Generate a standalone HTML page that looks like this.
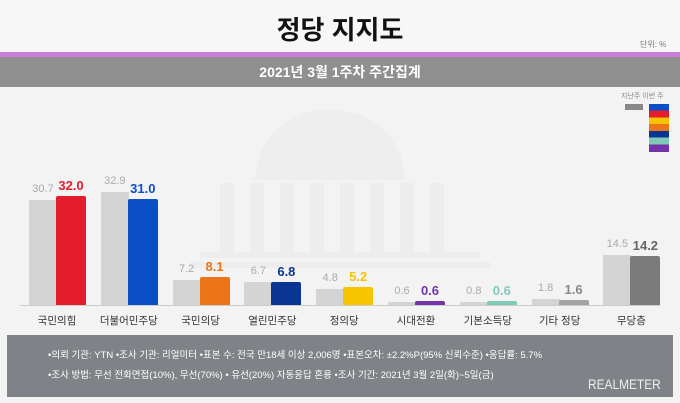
<!DOCTYPE html><html><head><meta charset="utf-8"><style>
body{margin:0;width:680px;height:403px;background:#f3f3f3;font-family:"Liberation Sans","Noto Sans CJK KR",sans-serif;position:relative;overflow:hidden}
.a{position:absolute}
.t{font-size:11px;text-align:center;color:#aaa}
.c{font-size:13px;font-weight:bold;text-align:center}
.l{font-size:10.5px;color:#333;text-align:center;width:80px}
</style></head><body>
<div class="a" style="left:0;top:0;width:680px;height:52px;background:#f7f7f7"></div>
<div class="a" style="left:0;top:10px;width:680px;text-align:center;font-size:26px;font-weight:bold;color:#111">정당 지지도</div>
<div class="a" style="left:640px;top:39px;font-size:8px;color:#777">단위: %</div>
<div class="a" style="left:0;top:52px;width:680px;height:5px;background:#c97fd8"></div>
<div class="a" style="left:0;top:57px;width:680px;height:30px;background:#8f8f8f"></div>
<div class="a" style="left:0;top:62px;width:680px;text-align:center;font-size:14px;font-weight:bold;color:#fff">2021년 3월 1주차 주간집계</div>
<div class="a" style="left:621px;top:91px;font-size:7px;color:#888">지난주 이번 주</div>
<div class="a" style="left:625px;top:104px;width:18px;height:6px;background:#888"></div>
<div class="a" style="left:649px;top:104px;width:20px;height:48px;background:linear-gradient(#0a4fc6 0 14%,#e51c2c 14% 28%,#f8c300 28% 42%,#ee7418 42% 56%,#0b3592 56% 70%,#7fcab7 70% 84%,#7234a6 84%)"></div>
<!-- watermark -->
<div class="a" style="left:255px;top:110px;width:150px;height:70px;border-radius:75px 75px 0 0;background:#eeeeee"></div>
<div class="a" style="left:220px;top:183px;width:240px;height:70px;background:repeating-linear-gradient(90deg,#ededed 0 14px,transparent 14px 30px)"></div>
<div class="a" style="left:200px;top:252px;width:280px;height:6px;background:#ededed"></div>
<div class="a" style="left:190px;top:262px;width:300px;height:6px;background:#ededed"></div>
<div class="a" style="left:20px;top:305px;width:640px;height:1px;background:#ccc"></div>
<div id="bars"></div>
<div class="a" style="left:7px;top:335px;width:666px;height:62px;background:#7f8387"></div>
<div class="a" style="left:48px;top:347px;font-size:9.5px;color:#fff">•의뢰 기관: YTN •조사 기관: 리얼미터 •표본 수: 전국 만18세 이상 2,006명 •표본오차: ±2.2%P(95% 신뢰수준) •응답률: 5.7%</div>
<div class="a" style="left:48px;top:367px;font-size:9.5px;color:#fff">•조사 방법: 무선 전화면접(10%), 무선(70%) • 유선(20%) 자동응답 혼용 •조사 기간: 2021년 3월 2일(화)~5일(금)</div>
<div class="a" style="left:588px;top:376px;font-size:14px;color:#eee;transform:scaleX(.85);transform-origin:left">REALMETER</div>
<script>
var d=[["국민의힘",30.7,32.0,"#e51c2c","#e51c2c"],["더불어민주당",32.9,31.0,"#0a4fc6","#0a4fc6"],["국민의당",7.2,8.1,"#ee7418","#ee7418"],["열린민주당",6.7,6.8,"#0b3592","#0b3592"],["정의당",4.8,5.2,"#f8c300","#f8c300"],["시대전환",0.6,0.6,"#7234a6","#7234a6"],["기본소득당",0.8,0.6,"#7fcab7","#7fcab7"],["기타 정당",1.8,1.6,"#a3a3a3","#888"],["무당층",14.5,14.2,"#7b7b7b","#666"]];
var h="",k=3.42,B=305;
d.forEach(function(r,i){var x=29+i*71.8;
var hp=Math.max(r[1]*k,3),hc=Math.max(r[2]*k,4);
h+='<div class="a" style="left:'+x+'px;top:'+(B-hp)+'px;width:28px;height:'+hp+'px;background:#d4d4d4"></div>';
h+='<div class="a" style="left:'+(x+27)+'px;top:'+(B-hc)+'px;width:30px;height:'+hc+'px;background:'+r[3]+';border-radius:2px 2px 0 0"></div>';
h+='<div class="a t" style="left:'+(x-6)+'px;top:'+(B-hp-17)+'px;width:40px">'+r[1].toFixed(1)+'</div>';
h+='<div class="a c" style="left:'+(x+22)+'px;top:'+(B-hc-18)+'px;width:40px;color:'+r[4]+'">'+r[2].toFixed(1)+'</div>';
h+='<div class="a l" style="left:'+(x-12)+'px;top:313px">'+r[0]+'</div>';});
document.getElementById("bars").innerHTML=h;
</script>
</body></html>
